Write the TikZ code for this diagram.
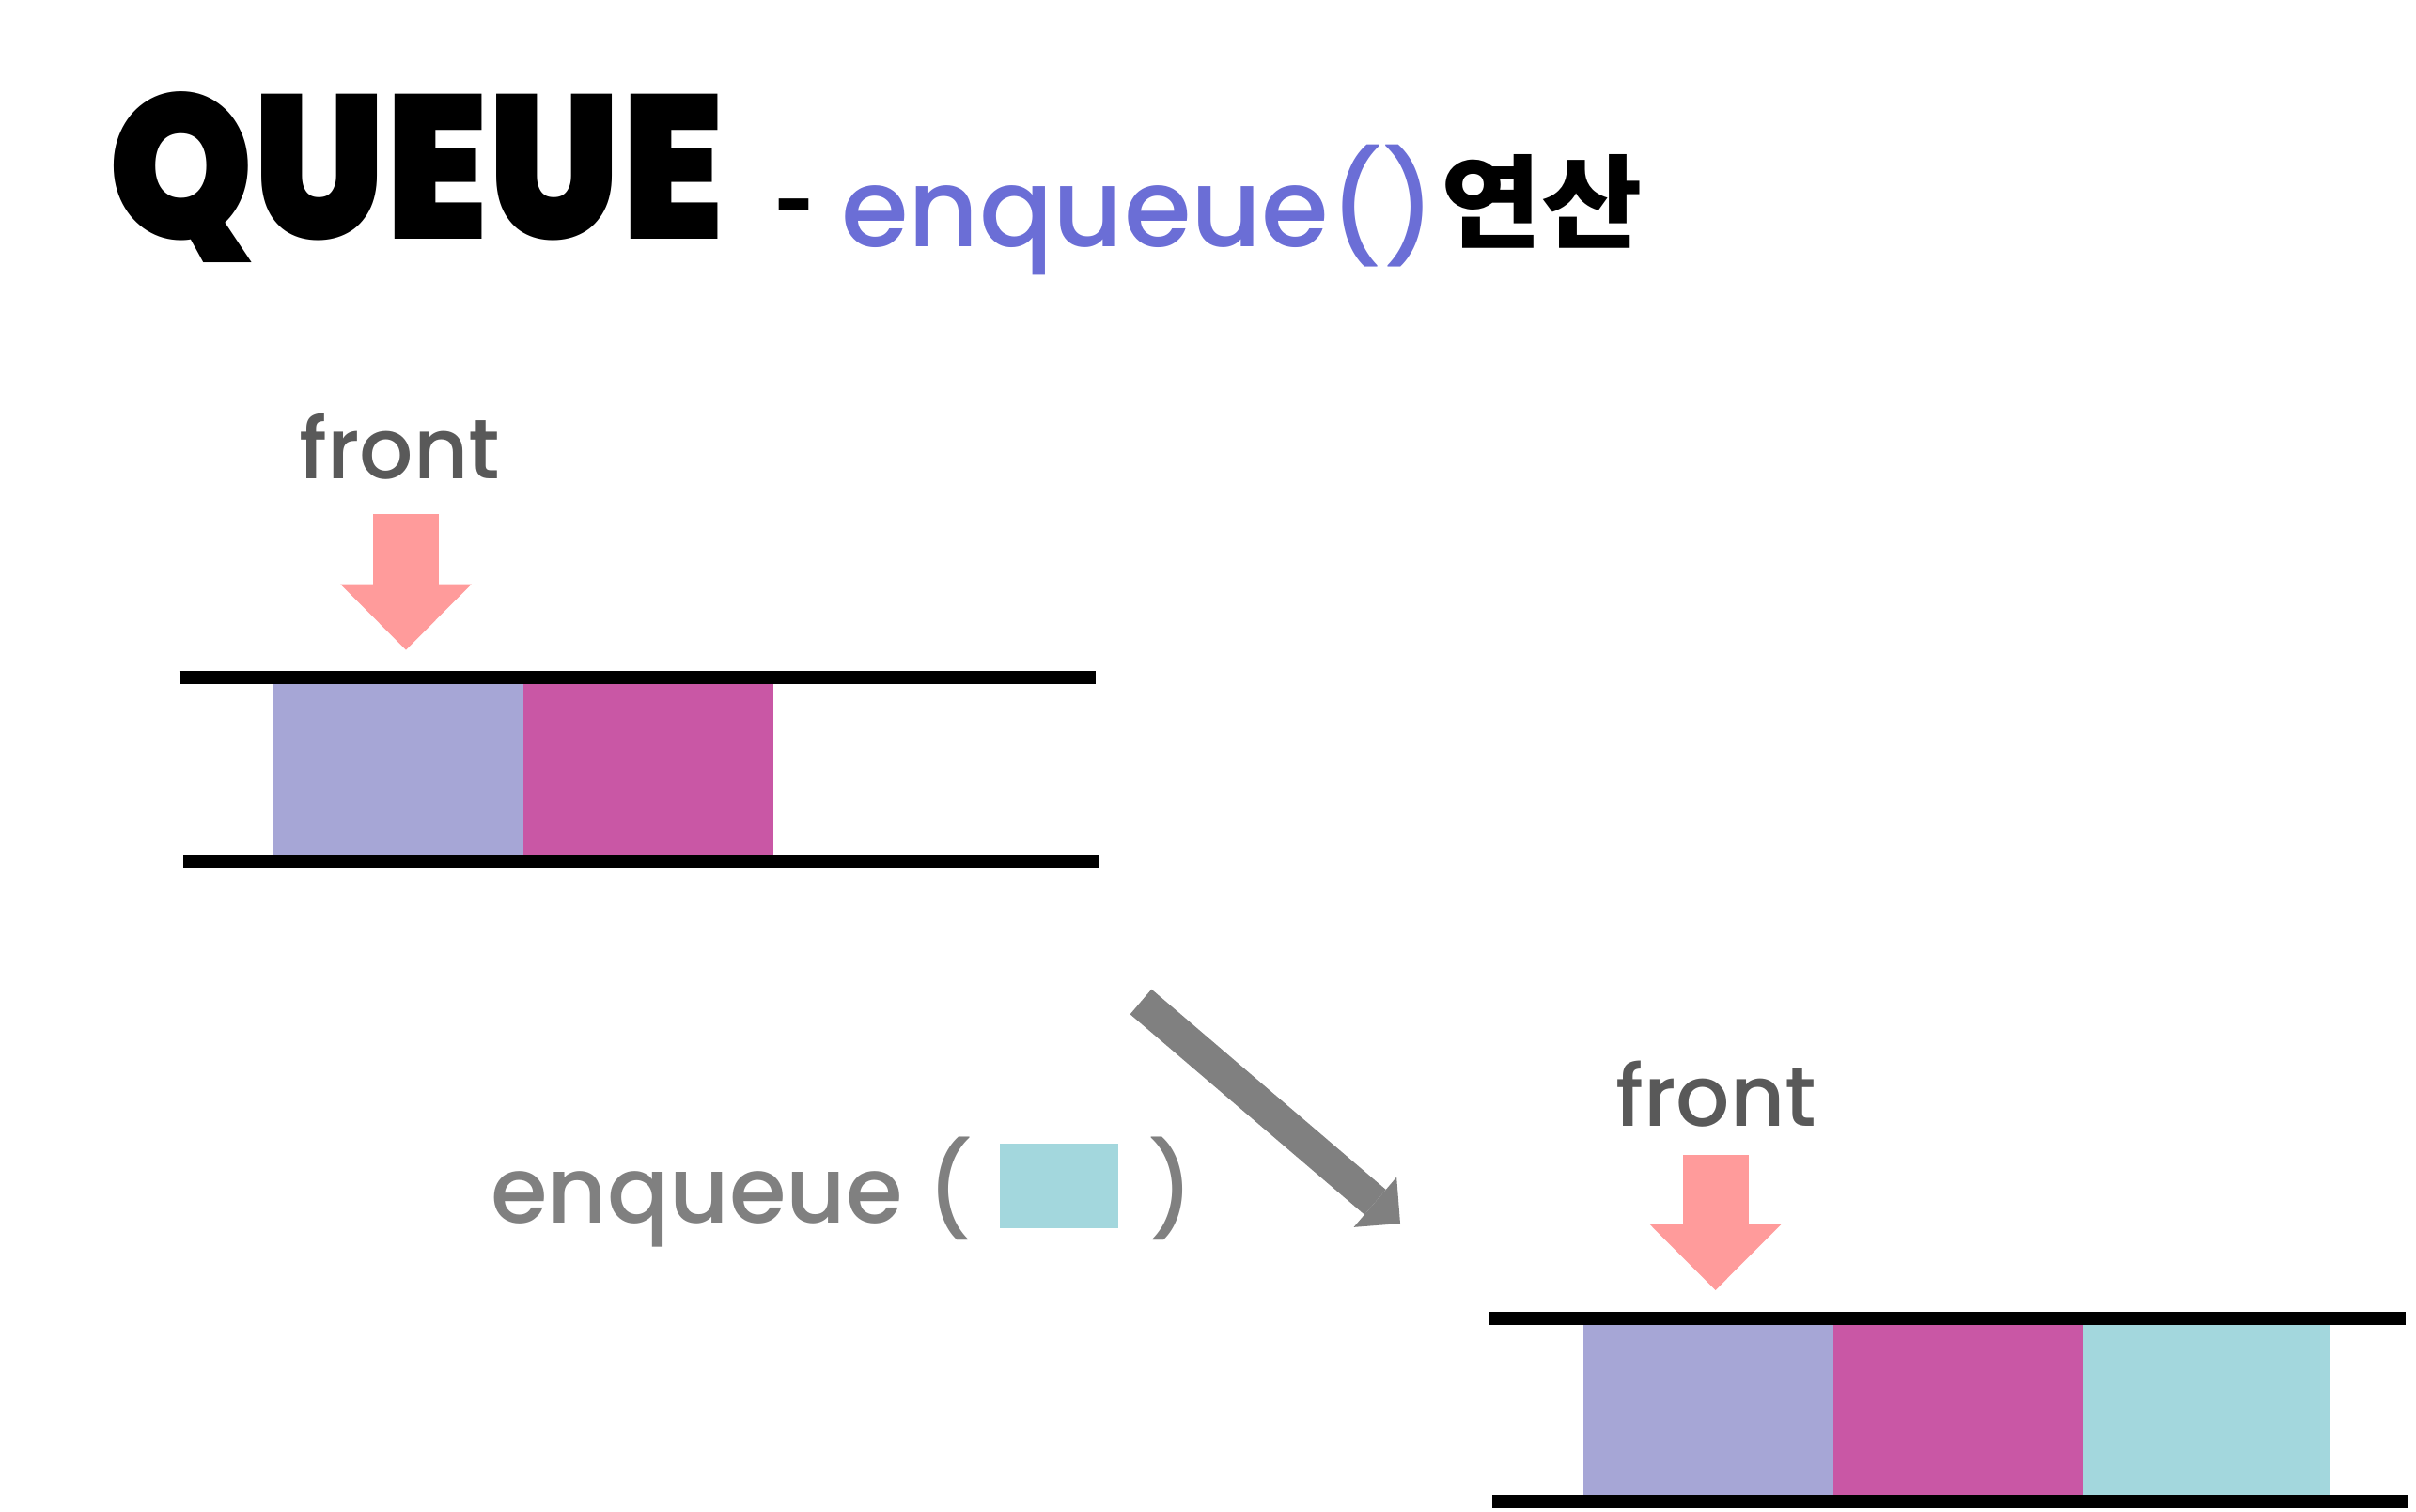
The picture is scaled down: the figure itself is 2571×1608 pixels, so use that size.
\documentclass[tikz,border=0pt]{standalone}
\usepackage{fontspec}
\setmainfont{Poppins Medium}
\newfontfamily\titlefont{Poppins Black}[FakeStretch=0.9]
\newfontfamily\krfont{Noto Sans CJK KR}[FakeStretch=1.08]
\usetikzlibrary{arrows.meta}

\definecolor{cellviolet}{HTML}{A6A6D6}
\definecolor{cellmagenta}{HTML}{C957A5}
\definecolor{cellcyan}{HTML}{A3D7DD}
\definecolor{frontpink}{HTML}{FF9B9B}
\definecolor{titleblue}{HTML}{6B6ED6}
\definecolor{labelgray}{HTML}{595959}
\definecolor{opgray}{HTML}{808080}

\tikzset{
  rail/.style={line width=14pt},
  cell/.style={inner sep=0pt, minimum width=266pt, minimum height=182pt, anchor=north west},
  textbase/.style={inner sep=0pt, anchor=base west},
  frontlabel/.style={textbase, text=labelgray, font=\fontsize{90}{100}\selectfont},
  optext/.style={textbase, text=opgray, font=\fontsize{98}{100}\selectfont},
  frontarrow/.style={frontpink, line width=70pt, -{Triangle[length=70pt, width=139.5pt, line width=0pt]}},
  oparrow/.style={opgray, line width=35pt, -{Triangle[length=35pt, width=70pt, line width=0pt]}}
}

\begin{document}
\begin{tikzpicture}[x=1pt, y=-1pt]
  \useasboundingbox[fill=white] (0,0) rectangle (2571,1608);

  \node[textbase, font=\titlefont\fontsize{218}{218}\selectfont] (title) at (115,254) {QUEUE};
  \node[textbase, font=\fontsize{124}{130}\selectfont] (subdash) at (822,262) {\scalebox{0.62}[1]{-}};
  \node[textbase, text=titleblue, font=\fontsize{116}{130}\selectfont] (subop) at (895,262) {enqueue()};
  \node[textbase, font=\krfont\bfseries\fontsize{108}{130}\selectfont] (subkr) at (1533,255) {연산};

  \node[frontlabel] (front1) at (318,509) {front};
  \coordinate (front1top) at (432,547);
  \coordinate (front1tip) at (432,691.6);
  \draw[frontarrow] (front1top) -- (front1tip);

  \coordinate (rail1a) at (191.5,721);
  \coordinate (rail1b) at (1166,721);
  \coordinate (rail1c) at (195,917);
  \coordinate (rail1d) at (1169,917);
  \node[cell, fill=cellviolet] (q1a) at (291,728) {};
  \node[cell, fill=cellmagenta] (q1b) at (557,728) {};
  \draw[rail] (rail1a) -- (rail1b);
  \draw[rail] (rail1c) -- (rail1d);

  \coordinate (opstart) at (1214,1066);
  \coordinate (opend) at (1490,1302);
  \draw[oparrow] (opstart) -- (opend);

  \node[optext] (opcall) at (522,1301) {enqueue (};
  \node[inner sep=0pt, minimum width=126pt, minimum height=90pt, anchor=north west, fill=cellcyan] (opbox) at (1064,1217) {};
  \node[optext] (opclose) at (1222,1301) {)};

  \node[frontlabel] (front2) at (1719,1198) {front};
  \coordinate (front2top) at (1825.5,1229);
  \coordinate (front2tip) at (1825.5,1373);
  \draw[frontarrow] (front2top) -- (front2tip);

  \coordinate (rail2a) at (1585,1403);
  \coordinate (rail2b) at (2559.5,1403);
  \coordinate (rail2c) at (1588,1598);
  \coordinate (rail2d) at (2561.5,1598);
  \node[cell, fill=cellviolet] (q2a) at (1685,1410) {};
  \node[cell, fill=cellmagenta] (q2b) at (1951,1410) {};
  \node[cell, fill=cellcyan, minimum width=261.5pt] (q2c) at (2217,1410) {};
  \draw[rail] (rail2a) -- (rail2b);
  \draw[rail] (rail2c) -- (rail2d);
\end{tikzpicture}
\end{document}
